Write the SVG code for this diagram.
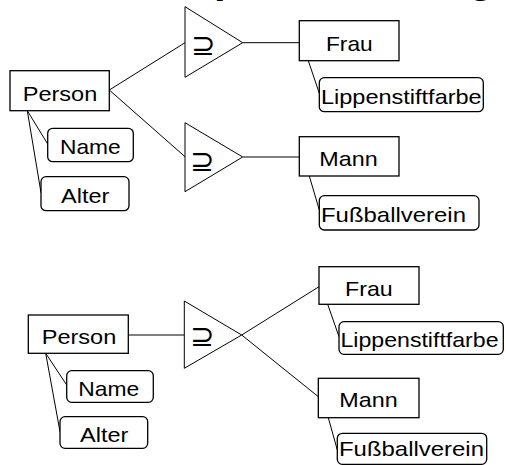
<svg xmlns="http://www.w3.org/2000/svg" width="506" height="465" viewBox="0 0 506 465">
<style>
.ent{fill:#fff;stroke:#000;stroke-width:1.3}
.att{fill:#fff;stroke:#000;stroke-width:1.3}
.tri{fill:#fff;stroke:#000;stroke-width:1}
.t{font-family:"Liberation Sans",Arial,sans-serif;font-size:21px;fill:#000}
.sym{font-family:"DejaVu Sans",sans-serif;font-size:29px;fill:#000}
.title{font-family:"Liberation Sans",Arial,sans-serif;font-size:42px;font-weight:bold;fill:#000}
#connectors line{stroke:#000;stroke-width:1}
</style>
<rect width="506" height="465" fill="#fff"/>
<text class="title" x="186" y="-8">Spezialisierung</text>
<g id="connectors">
<line x1="109.3" y1="90" x2="185" y2="42.7"/>
<line x1="109.3" y1="90" x2="185" y2="156.7"/>
<line x1="27.3" y1="110.7" x2="47.7" y2="144"/>
<line x1="27.3" y1="110.7" x2="41" y2="192.7"/>
<line x1="242.7" y1="42.7" x2="299.3" y2="42.7"/>
<line x1="242.7" y1="157" x2="299.3" y2="157"/>
<line x1="308.3" y1="60.7" x2="319.3" y2="93.3"/>
<line x1="309.3" y1="176" x2="319.3" y2="210"/>
<line x1="128.3" y1="335" x2="184.3" y2="335"/>
<line x1="45.7" y1="353.3" x2="66.7" y2="385"/>
<line x1="45.7" y1="353.3" x2="60" y2="431.7"/>
<line x1="241.7" y1="335" x2="319" y2="286.7"/>
<line x1="241.7" y1="335" x2="318.3" y2="396.7"/>
<line x1="327.7" y1="304.3" x2="339" y2="336.7"/>
<line x1="328.3" y1="417.7" x2="337.3" y2="450"/>
</g>
<g id="isa1"><polygon class="tri" points="185,6.7 185,77.3 242.7,42.7"/><text class="sym" x="191" y="55">⊇</text></g>
<g id="isa2"><polygon class="tri" points="185,122.7 185,191.7 242.7,157"/><text class="sym" x="190" y="171">⊇</text></g>
<g id="isa3"><polygon class="tri" points="184.3,301 184.3,368.3 241.7,335"/><text class="sym" x="190" y="346">⊇</text></g>
<g id="person1"><rect class="ent" x="10" y="70.7" width="99.3" height="40"/><text class="t" x="22.7" y="100.7" textLength="74.6" lengthAdjust="spacingAndGlyphs">Person</text></g>
<g id="name1"><rect class="att" x="47.7" y="128.3" width="85.6" height="33.4" rx="5"/><text class="t" x="60" y="154.3" textLength="60.7" lengthAdjust="spacingAndGlyphs">Name</text></g>
<g id="alter1"><rect class="att" x="41" y="176.7" width="88" height="34" rx="5"/><text class="t" x="61" y="203.3" textLength="48.3" lengthAdjust="spacingAndGlyphs">Alter</text></g>
<g id="frau1"><rect class="ent" x="299.3" y="20.7" width="99.7" height="40"/><text class="t" x="326" y="50.7" textLength="46.7" lengthAdjust="spacingAndGlyphs">Frau</text></g>
<g id="lipp1"><rect class="att" x="319.3" y="77.7" width="164" height="34" rx="5"/><text class="t" x="321" y="103.5" textLength="160.7" lengthAdjust="spacingAndGlyphs">Lippenstiftfarbe</text></g>
<g id="mann1"><rect class="ent" x="299.3" y="136.7" width="99.7" height="39.3"/><text class="t" x="319.3" y="166.3" textLength="58.4" lengthAdjust="spacingAndGlyphs">Mann</text></g>
<g id="fuss1"><rect class="att" x="319.3" y="195.7" width="159.7" height="34.3" rx="5"/><text class="t" x="321" y="222" textLength="145" lengthAdjust="spacingAndGlyphs">Fußballverein</text></g>
<g id="person2"><rect class="ent" x="28.3" y="315" width="100" height="38.3"/><text class="t" x="41.7" y="343.5" textLength="74.6" lengthAdjust="spacingAndGlyphs">Person</text></g>
<g id="name2"><rect class="att" x="66.7" y="370.7" width="86.6" height="31.6" rx="5"/><text class="t" x="78.3" y="395.8" textLength="61" lengthAdjust="spacingAndGlyphs">Name</text></g>
<g id="alter2"><rect class="att" x="60" y="416.7" width="87.7" height="31.6" rx="5"/><text class="t" x="80" y="441.8" textLength="48.3" lengthAdjust="spacingAndGlyphs">Alter</text></g>
<g id="frau2"><rect class="ent" x="319" y="266.7" width="100" height="37.6"/><text class="t" x="345" y="295.5" textLength="47.7" lengthAdjust="spacingAndGlyphs">Frau</text></g>
<g id="lipp2"><rect class="att" x="339" y="321.7" width="164.3" height="32.6" rx="5"/><text class="t" x="340.5" y="347" textLength="158" lengthAdjust="spacingAndGlyphs">Lippenstiftfarbe</text></g>
<g id="mann2"><rect class="ent" x="318.3" y="378.3" width="100.7" height="39.4"/><text class="t" x="339.3" y="406.7" textLength="58.4" lengthAdjust="spacingAndGlyphs">Mann</text></g>
<g id="fuss2"><rect class="att" x="337.3" y="433.3" width="149.4" height="31" rx="5"/><text class="t" x="339" y="456" textLength="145" lengthAdjust="spacingAndGlyphs">Fußballverein</text></g>
</svg>
